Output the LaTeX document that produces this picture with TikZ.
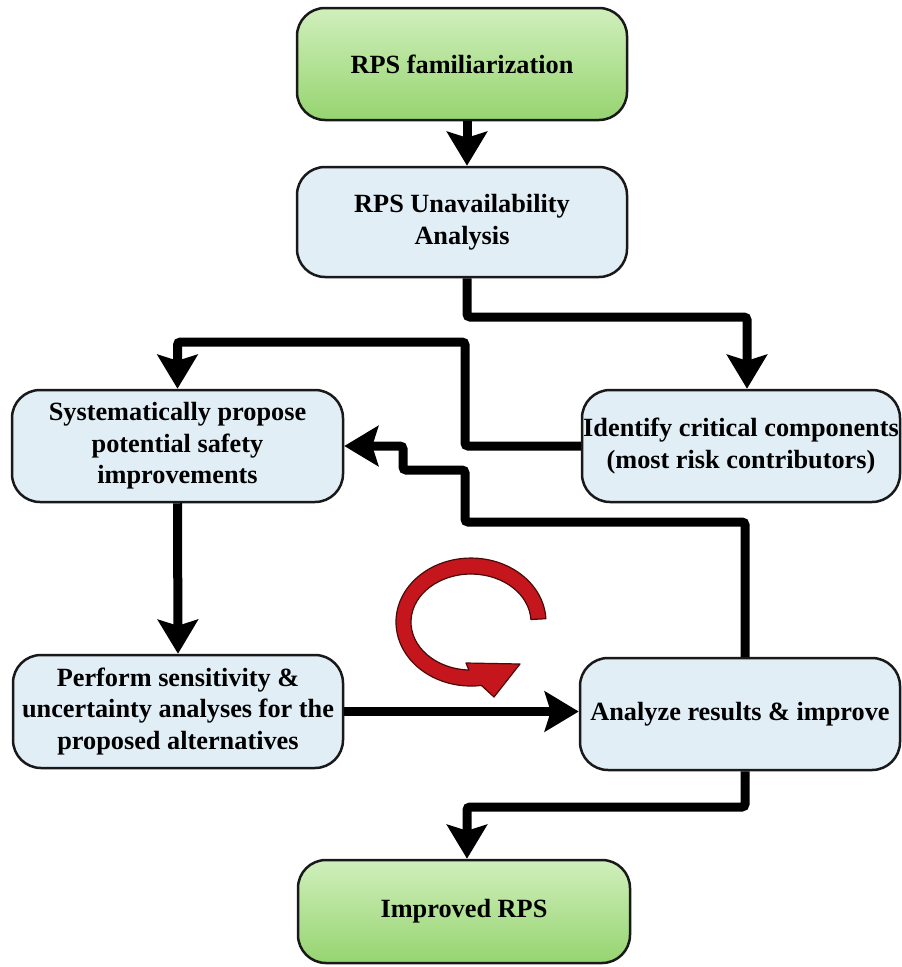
\documentclass[tikz,border=0pt]{standalone}
\usepackage{fontspec}
\setmainfont{Liberation Serif}
\usetikzlibrary{arrows.meta}
\definecolor{gtop}{HTML}{D0EFBC}
\definecolor{gbot}{HTML}{96D470}
\definecolor{bfill}{HTML}{E1EEF6}
\definecolor{rarrow}{HTML}{C4161C}
\definecolor{rline}{HTML}{4A0A0A}
\begin{document}
\begin{tikzpicture}[x=1pt,y=-1pt,
  box/.style={draw=black!90, line width=2.5pt, rounded corners=28pt, align=center,
    font=\fontsize{26.3}{31.5}\selectfont\bfseries, inner sep=0pt},
  greenbox/.style={box, top color=gtop, bottom color=gbot},
  bluebox/.style={box, fill=bfill},
  arr/.style={line width=9pt, rounded corners=3pt, -{Stealth[length=34pt,width=40pt,inset=6pt]}},
]
\useasboundingbox (0,0) rectangle (902,967);

\node[greenbox, minimum width=330pt, minimum height=112pt] (fam) at (462,64) {RPS familiarization};
\node[bluebox, minimum width=330pt, minimum height=110pt] (una) at (462,222) {RPS Unavailability\\Analysis};
\node[bluebox, minimum width=331pt, minimum height=112pt] (sys) at (177.5,446) {Systematically propose\\potential safety\\improvements};
\node[bluebox, minimum width=318pt, minimum height=112pt] (idf) at (741,446) {Identify critical components\\(most risk contributors)};
\node[bluebox, minimum width=330pt, minimum height=113pt] (per) at (178,711.5) {Perform sensitivity \&\\uncertainty analyses for the\\proposed alternatives};
\node[bluebox, minimum width=320pt, minimum height=112pt] (ana) at (740,714) {Analyze results \& improve};
\node[greenbox, minimum width=332pt, minimum height=103pt] (imp) at (464,911.5) {Improved RPS};

\draw[arr] ([xshift=5pt]fam.south) -- ([xshift=5pt]una.north);
\draw[arr] ([xshift=5pt]una.south) |- (600,317) -| ([xshift=6pt]idf.north);
\draw[arr] (idf.west) -| (465,342) -| (sys.north);
\draw[arr] ([xshift=5pt]ana.north) |- (465,522) |- (403,470) |- (sys.east);
\draw[arr] (sys.south) -- (per.north);
\draw[arr] (per.east) -- (per.east -| ana.west);
\draw[arr] ([xshift=5pt]ana.south) |- (600,807) -| ([xshift=3pt]imp.north);

% red circular arrow
\fill[rarrow, draw=rline, line width=1.2pt, line join=round]
  (545.9,618.7) arc[start angle=-3, end angle=-278, x radius=75, y radius=64]
  -- (494,697) -- (520,664) -- (466,663) -- (468.9,670.0)
  arc[start angle=-268, end angle=-3, x radius=60, y radius=48] -- cycle;
\end{tikzpicture}
\end{document}
